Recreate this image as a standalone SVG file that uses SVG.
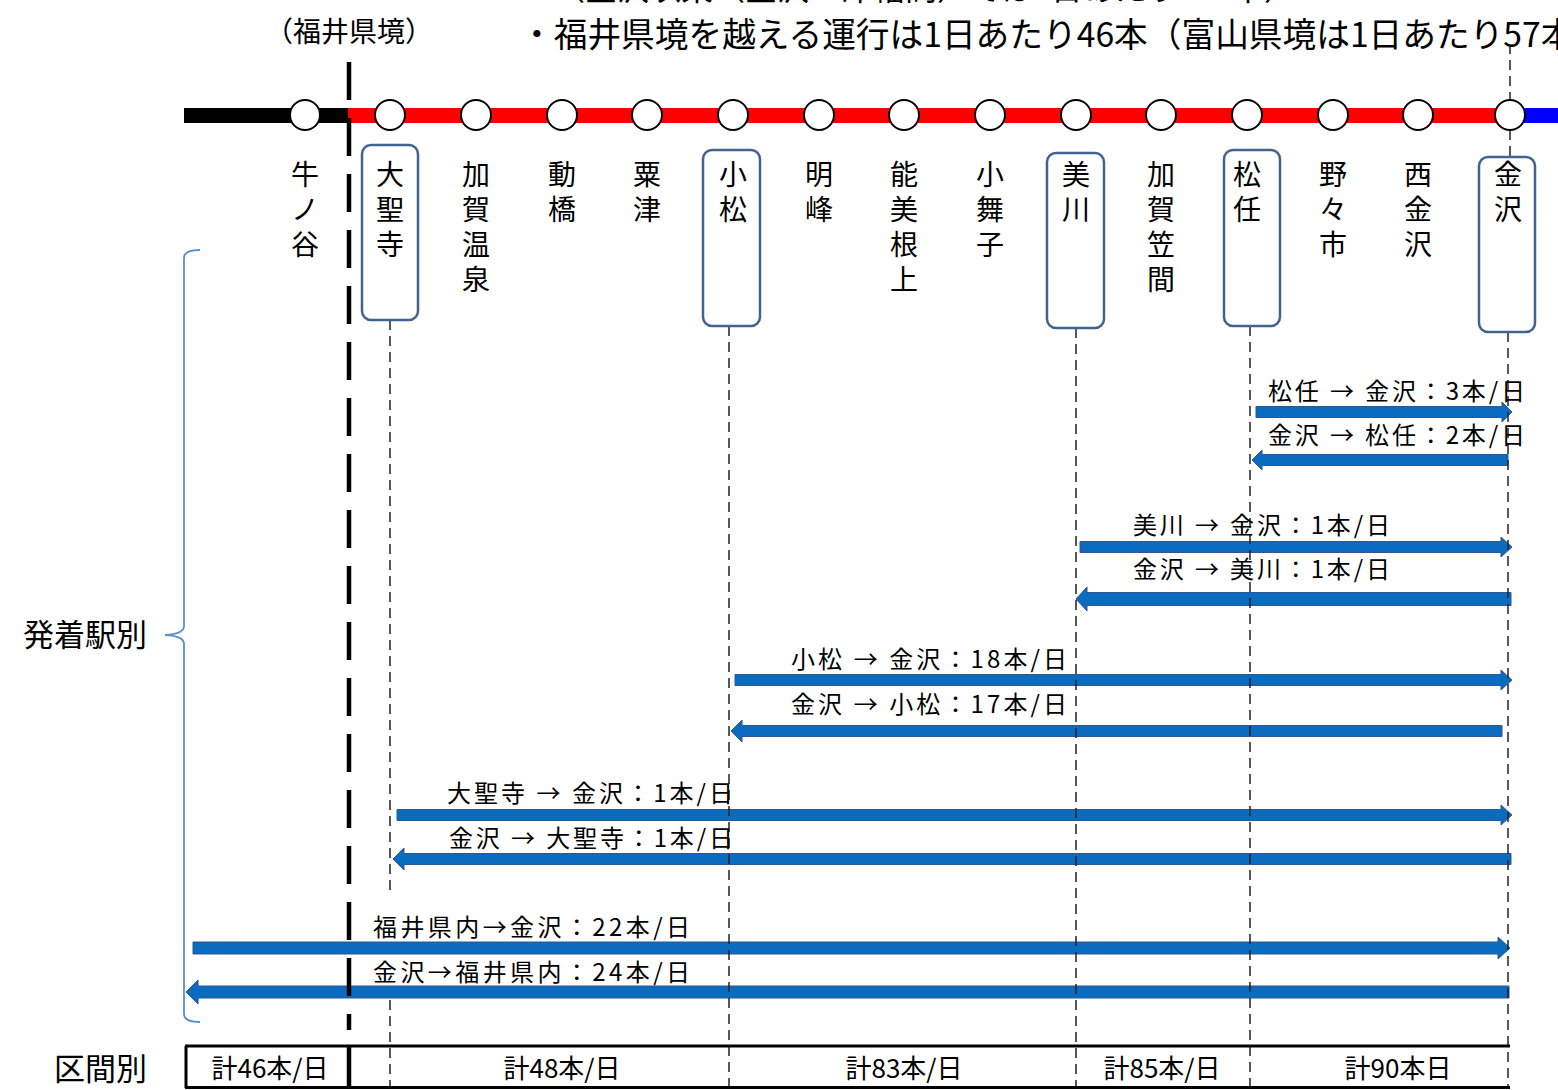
<svg xmlns="http://www.w3.org/2000/svg" width="1558" height="1090" viewBox="0 0 1558 1090">
<style>
text{font-family:"Noto Sans CJK JP","Noto Sans CJK SC",sans-serif;fill:#000}
.st{font-size:28px;text-anchor:middle}
.lb{font-size:24px}
.tb{font-size:26px;text-anchor:middle}
.stn{fill:#fff;stroke:#000;stroke-width:2}
.box{fill:none;stroke:#41648f;stroke-width:2.5}
.dl{stroke:#222;stroke-width:1.5;stroke-dasharray:10 6;fill:none}
.arr{fill:#0a6cbf;stroke:#2f5597;stroke-width:1}
</style>
<rect width="1558" height="1090" fill="#fff"/>

<g id="header">
<text x="553" y="0" style="font-size:32px">（金沢以東（金沢～津幡間）では1日あたり102本）</text>
<text x="265" y="42" style="font-size:28px">（福井県境）</text>
<text x="520" y="47" style="font-size:33.7px">・福井県境を越える運行は1日あたり46本（富山県境は1日あたり57本）</text>
</g>

<g id="track">
<rect x="184" y="108" width="165" height="15" fill="#000"/>
<rect x="348" y="108" width="1162" height="15" fill="#ff0000"/>
<rect x="1510" y="108" width="48" height="15" fill="#0000ff"/>
</g>

<g id="connectors">
<path class="arr" d="M1256 406.5 H1502 V402 L1512 412 L1502 422 V417.5 H1256 Z"/>
<path class="arr" d="M1252 460 L1262 450 V454.5 H1508 V465.5 H1262 V470 Z"/>
<path class="arr" d="M1080 541.5 H1501 V537 L1512 547 L1501 557 V552.5 H1080 Z"/>
<path class="arr" d="M1076 599 L1087 587 V592.5 H1511 V605.5 H1087 V611 Z"/>
<path class="arr" d="M735 674.5 H1501 V670 L1512 680 L1501 690 V685.5 H735 Z"/>
<path class="arr" d="M731 731 L742 720 V725.5 H1502 V736.5 H742 V742 Z"/>
<path class="arr" d="M397 809.5 H1501 V805 L1512 815 L1501 825 V820.5 H397 Z"/>
<path class="arr" d="M393 859 L404 848 V853.5 H1511 V864.5 H404 V870 Z"/>
<path class="arr" d="M193 942 H1498 V937 L1510 948 L1498 959 V954 H193 Z"/>
<path class="arr" d="M186 992 L198 980 V986 H1509 V998 H198 V1004 Z"/>

<line class="dl" x1="390" y1="320" x2="390" y2="890"/>
<line class="dl" x1="390" y1="1000" x2="390" y2="1088"/>
<line class="dl" x1="729" y1="326" x2="729" y2="1088"/>
<line class="dl" x1="1076" y1="328" x2="1076" y2="1088"/>
<line class="dl" x1="1250" y1="326" x2="1250" y2="1088"/>
<line class="dl" x1="1510" y1="44" x2="1510" y2="100"/>
<line class="dl" x1="1510" y1="130" x2="1510" y2="157"/>
<line class="dl" x1="1508" y1="332" x2="1508" y2="1088"/>
<line x1="349" y1="62" x2="349" y2="1030" stroke="#000" stroke-width="4.5" stroke-dasharray="38 18"/>
<line x1="349" y1="1046" x2="349" y2="1088" stroke="#000" stroke-width="4.5"/>
</g>

<g id="stations">
<circle class="stn" cx="305" cy="115" r="15"/>
<circle class="stn" cx="390" cy="115" r="15"/>
<circle class="stn" cx="476" cy="115" r="15"/>
<circle class="stn" cx="562" cy="115" r="15"/>
<circle class="stn" cx="647" cy="115" r="15"/>
<circle class="stn" cx="733" cy="115" r="15"/>
<circle class="stn" cx="819" cy="115" r="15"/>
<circle class="stn" cx="904" cy="115" r="15"/>
<circle class="stn" cx="990" cy="115" r="15"/>
<circle class="stn" cx="1076" cy="115" r="15"/>
<circle class="stn" cx="1161" cy="115" r="15"/>
<circle class="stn" cx="1247" cy="115" r="15"/>
<circle class="stn" cx="1333" cy="115" r="15"/>
<circle class="stn" cx="1418" cy="115" r="15"/>
<circle class="stn" cx="1510" cy="115" r="15"/>
</g>

<g id="node-ushinoya"><text class="st"><tspan x="305" y="185">牛</tspan><tspan x="305" y="220">ノ</tspan><tspan x="305" y="255">谷</tspan></text></g>
<g id="node-daishoji"><rect class="box" x="362" y="145" width="56" height="175" rx="9"/><text class="st"><tspan x="390" y="185">大</tspan><tspan x="390" y="220">聖</tspan><tspan x="390" y="255">寺</tspan></text></g>
<g id="node-kagaonsen"><text class="st"><tspan x="476" y="185">加</tspan><tspan x="476" y="220">賀</tspan><tspan x="476" y="255">温</tspan><tspan x="476" y="290">泉</tspan></text></g>
<g id="node-iburihashi"><text class="st"><tspan x="562" y="185">動</tspan><tspan x="562" y="220">橋</tspan></text></g>
<g id="node-awazu"><text class="st"><tspan x="647" y="185">粟</tspan><tspan x="647" y="220">津</tspan></text></g>
<g id="node-komatsu"><rect class="box" x="703" y="150" width="57" height="176" rx="9"/><text class="st"><tspan x="733" y="185">小</tspan><tspan x="733" y="220">松</tspan></text></g>
<g id="node-meiho"><text class="st"><tspan x="819" y="185">明</tspan><tspan x="819" y="220">峰</tspan></text></g>
<g id="node-nomineagari"><text class="st"><tspan x="904" y="185">能</tspan><tspan x="904" y="220">美</tspan><tspan x="904" y="255">根</tspan><tspan x="904" y="290">上</tspan></text></g>
<g id="node-komaiko"><text class="st"><tspan x="990" y="185">小</tspan><tspan x="990" y="220">舞</tspan><tspan x="990" y="255">子</tspan></text></g>
<g id="node-mikawa"><rect class="box" x="1047" y="153" width="57" height="175" rx="9"/><text class="st"><tspan x="1076" y="185">美</tspan><tspan x="1076" y="220">川</tspan></text></g>
<g id="node-kagakasama"><text class="st"><tspan x="1161" y="185">加</tspan><tspan x="1161" y="220">賀</tspan><tspan x="1161" y="255">笠</tspan><tspan x="1161" y="290">間</tspan></text></g>
<g id="node-matto"><rect class="box" x="1224" y="150" width="56" height="176" rx="9"/><text class="st"><tspan x="1247" y="185">松</tspan><tspan x="1247" y="220">任</tspan></text></g>
<g id="node-nonoichi"><text class="st"><tspan x="1333" y="185">野</tspan><tspan x="1333" y="220">々</tspan><tspan x="1333" y="255">市</tspan></text></g>
<g id="node-nishikanazawa"><text class="st"><tspan x="1418" y="185">西</tspan><tspan x="1418" y="220">金</tspan><tspan x="1418" y="255">沢</tspan></text></g>
<g id="node-kanazawa"><rect class="box" x="1479" y="157" width="56" height="175" rx="9"/><text class="st"><tspan x="1508" y="185">金</tspan><tspan x="1508" y="220">沢</tspan></text></g>

<g id="labels">
<text class="lb" x="1268" y="400" textLength="257" lengthAdjust="spacing">松任 → 金沢：3本/日</text>
<text class="lb" x="1268" y="444" textLength="257" lengthAdjust="spacing">金沢 → 松任：2本/日</text>
<text class="lb" x="1133" y="534" textLength="257" lengthAdjust="spacing">美川 → 金沢：1本/日</text>
<text class="lb" x="1133" y="578" textLength="257" lengthAdjust="spacing">金沢 → 美川：1本/日</text>
<text class="lb" x="791" y="668" textLength="276" lengthAdjust="spacing">小松 → 金沢：18本/日</text>
<text class="lb" x="791" y="713" textLength="276" lengthAdjust="spacing">金沢 → 小松：17本/日</text>
<text class="lb" x="447" y="802" textLength="286" lengthAdjust="spacing">大聖寺 → 金沢：1本/日</text>
<text class="lb" x="449" y="847" textLength="284" lengthAdjust="spacing">金沢 → 大聖寺：1本/日</text>
<text class="lb" x="373" y="936" textLength="317" lengthAdjust="spacing">福井県内→金沢：22本/日</text>
<text class="lb" x="373" y="981" textLength="317" lengthAdjust="spacing">金沢→福井県内：24本/日</text>
</g>

<g id="brace">
<path d="M200 250 Q184 250 184 258 V626 Q184 634 165 635 Q184 636 184 644 V1014 Q184 1022 200 1022" fill="none" stroke="#5b8fd0" stroke-width="1.8"/>
<text x="23" y="646" style="font-size:31px">発着駅別</text>
</g>

<g id="table">
<line x1="185" y1="1046" x2="1510" y2="1046" stroke="#000" stroke-width="3"/>
<line x1="185" y1="1087.5" x2="1510" y2="1087.5" stroke="#000" stroke-width="3"/>
<line x1="186" y1="1046" x2="186" y2="1088" stroke="#000" stroke-width="3"/>
<text x="54" y="1080" style="font-size:31px">区間別</text>
<text class="tb" x="270" y="1078">計46本/日</text>
<text class="tb" x="562" y="1078">計48本/日</text>
<text class="tb" x="904" y="1078">計83本/日</text>
<text class="tb" x="1162" y="1078">計85本/日</text>
<text class="tb" x="1398" y="1078">計90本日</text>
</g>
</svg>
